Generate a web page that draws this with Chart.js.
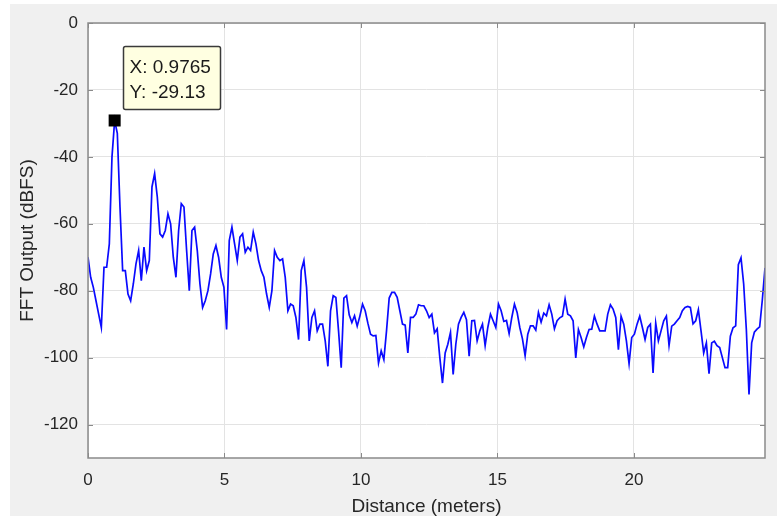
<!DOCTYPE html>
<html>
<head>
<meta charset="utf-8">
<script src="https://cdn.jsdelivr.net/npm/chart.js@4.4.1/dist/chart.umd.min.js"></script>
<style>
    html, body { margin: 0; padding: 0; background: #ffffff; }
    #wrap { position: absolute; left: 10px; top: 4px; width: 767px; height: 512px; background: #f0f0f0; }
    #fft { position: absolute; left: 0; top: 0; }
</style>
</head>
<body>
<div id="wrap"></div>
<canvas id="fft" width="777" height="518"></canvas>
<script>
// FFT output per range bin (dBFS), bin width 0.09765 m
const binWidth = 0.09765;
const fftOutput = [
    -70, -76, -79, -83, -87, -91, -73, -73, -66, -40,
    -29.13, -33, -55, -74, -74, -81, -83, -78, -72, -68,
    -77, -67, -74, -71, -49, -45, -52, -63, -64, -62,
    -57, -60, -70, -76, -62, -54, -55, -68, -80, -62,
    -61, -68, -78, -85, -83, -80, -75, -69, -66.5, -70,
    -76, -79, -91.6, -65, -61, -66, -71, -64, -63, -68.5,
    -67, -68, -62.5, -66, -71, -74, -76, -81, -85, -80,
    -68, -70, -71, -70.5, -76, -86, -84, -84.5, -88, -94.6,
    -74, -71, -79, -95, -88, -86, -92, -90, -90, -95,
    -102.6, -86, -81.5, -82, -92, -103, -82.2, -81.5, -87.2, -89.5,
    -87.5, -90.6, -87.6, -84, -86, -89.7, -93, -93.5, -93.4, -101.6,
    -98, -100.6, -92, -82.2, -80.5, -80.5, -82, -86, -90, -90.3,
    -98.6, -88, -88, -87, -84.2, -84.5, -84.5, -86, -88, -87,
    -92.6, -91.4, -100, -107.6, -98.6, -96, -92.5, -105, -96, -90,
    -88, -86.5, -88.7, -99.6, -89, -88.9, -95, -92, -90, -96.4,
    -91, -87, -89, -91, -84, -86, -89.2, -88.9, -92.8, -88,
    -84, -86.5, -91, -94.4, -99.4, -93, -90.5, -90.5, -91.8, -86.5,
    -89.4, -86.7, -87.5, -84.2, -87, -91.4, -89, -88.1, -87.6, -82.5,
    -87, -87.5, -89, -100.1, -91.6, -94, -96.8, -94, -91.6, -91.5,
    -87.6, -90, -92, -92, -92, -87, -84.2, -85.5, -88, -97.6,
    -87.6, -90, -95, -101.8, -94, -93, -90, -87.6, -91, -94.6,
    -91, -90, -104.6, -89.7, -95, -92, -89, -87.6, -96.4, -90.6,
    -90, -89, -88, -86, -85, -84.7, -85, -89.9, -89, -85.7,
    -92, -98.6, -95.6, -104.8, -95.6, -95.1, -96.4, -97, -100, -103,
    -103, -93.6, -91.1, -90.5, -72.2, -70.2, -78, -91.6, -111, -95.6,
    -92.4, -91.5, -90.8, -82.7, -73.2
];
const xTicks = [0, 5, 10, 15, 20];
const yTicks = [-120, -100, -80, -60, -40, -20, 0];
const tipX = 0.9765;
const tipY = -29.13;

const points = fftOutput.map((v, i) => ({ x: i * binWidth, y: v }));
const xMax = (fftOutput.length - 1) * binWidth;

const FONT = '"Liberation Sans", Arial, sans-serif';
const TEXT = '#262626';

// white axes background, box frame + inward tick marks, MATLAB style
const framePlugin = {
    id: 'frame',
    beforeDraw(chart) {
        const { ctx, chartArea: a } = chart;
        ctx.save();
        ctx.fillStyle = '#ffffff';
        ctx.fillRect(a.left, a.top, a.right - a.left, a.bottom - a.top);
        ctx.restore();
    },
    afterDatasetsDraw(chart) {
        const { ctx, chartArea: a, scales } = chart;
        ctx.save();
        ctx.strokeStyle = '#8a8a8a';
        ctx.lineWidth = 1;
        ctx.beginPath();
        xTicks.forEach(t => {
            const px = Math.round(scales.x.getPixelForValue(t)) + 0.5;
            ctx.moveTo(px, a.top); ctx.lineTo(px, a.top + 5);
            ctx.moveTo(px, a.bottom); ctx.lineTo(px, a.bottom - 5);
        });
        yTicks.forEach(t => {
            const py = Math.round(scales.y.getPixelForValue(t)) + 0.5;
            ctx.moveTo(a.left, py); ctx.lineTo(a.left + 5, py);
            ctx.moveTo(a.right, py); ctx.lineTo(a.right - 5, py);
        });
        ctx.stroke();
        ctx.lineWidth = 1.5;
        ctx.strokeRect(a.left, a.top, a.right - a.left, a.bottom - a.top);
        ctx.restore();
    },
    afterDraw(chart) {
        // data tip box
        const { ctx, scales } = chart;
        const mx = scales.x.getPixelForValue(tipX);
        const my = scales.y.getPixelForValue(tipY);
        const bx = Math.round(mx + 8) + 0.5, by = Math.round(my - 74) + 0.5;
        ctx.save();
        ctx.fillStyle = '#ffffe1';
        ctx.strokeStyle = '#3a3a3a';
        ctx.lineWidth = 1.5;
        ctx.beginPath();
        ctx.roundRect(bx, by, 97, 63, 2);
        ctx.fill();
        ctx.stroke();
        ctx.fillStyle = '#1a1a1a';
        ctx.font = '19px ' + FONT;
        ctx.textBaseline = 'middle';
        ctx.fillText('X: ' + tipX, bx + 6, by + 21);
        ctx.fillText('Y: ' + tipY.toFixed(2), bx + 6, by + 46);
        ctx.restore();
    }
};

new Chart(document.getElementById('fft'), {
    type: 'scatter',
    data: {
        datasets: [
            {
                data: [{ x: tipX, y: tipY }],
                showLine: false,
                pointStyle: 'rect',
                pointRadius: 8.5,
                backgroundColor: '#000',
                borderColor: '#000',
                borderWidth: 0
            },
            {
                data: points,
                showLine: true,
                borderColor: '#0a0aff',
                borderWidth: 1.7,
                pointRadius: 0,
                tension: 0
            }
        ]
    },
    plugins: [framePlugin],
    options: {
        responsive: false,
        animation: false,
        layout: { padding: { top: 23, right: 12, left: 0, bottom: 0 } },
        plugins: { legend: { display: false }, tooltip: { enabled: false } },
        scales: {
            x: {
                type: 'linear',
                min: 0,
                max: xMax,
                afterBuildTicks: ax => { ax.ticks = xTicks.map(v => ({ value: v })); },
                afterFit: ax => { ax.height = 60; },
                grid: { color: '#e3e3e3', drawTicks: false },
                border: { display: false },
                ticks: { color: TEXT, font: { family: FONT, size: 17 }, padding: 12, maxRotation: 0 },
                title: { display: true, text: 'Distance (meters)', color: TEXT, font: { family: FONT, size: 19 }, padding: { top: 0, bottom: 0 } }
            },
            y: {
                min: -130,
                max: 0,
                afterBuildTicks: ax => { ax.ticks = yTicks.map(v => ({ value: v })); },
                afterFit: ax => { ax.width = 88; },
                grid: { color: '#e3e3e3', drawTicks: false },
                border: { display: false },
                ticks: { color: TEXT, font: { family: FONT, size: 17 }, padding: 10 },
                title: { display: true, text: 'FFT Output (dBFS)', color: TEXT, font: { family: FONT, size: 19 }, padding: { top: 16, bottom: 0 } }
            }
        }
    }
});
</script>
</body>
</html>
